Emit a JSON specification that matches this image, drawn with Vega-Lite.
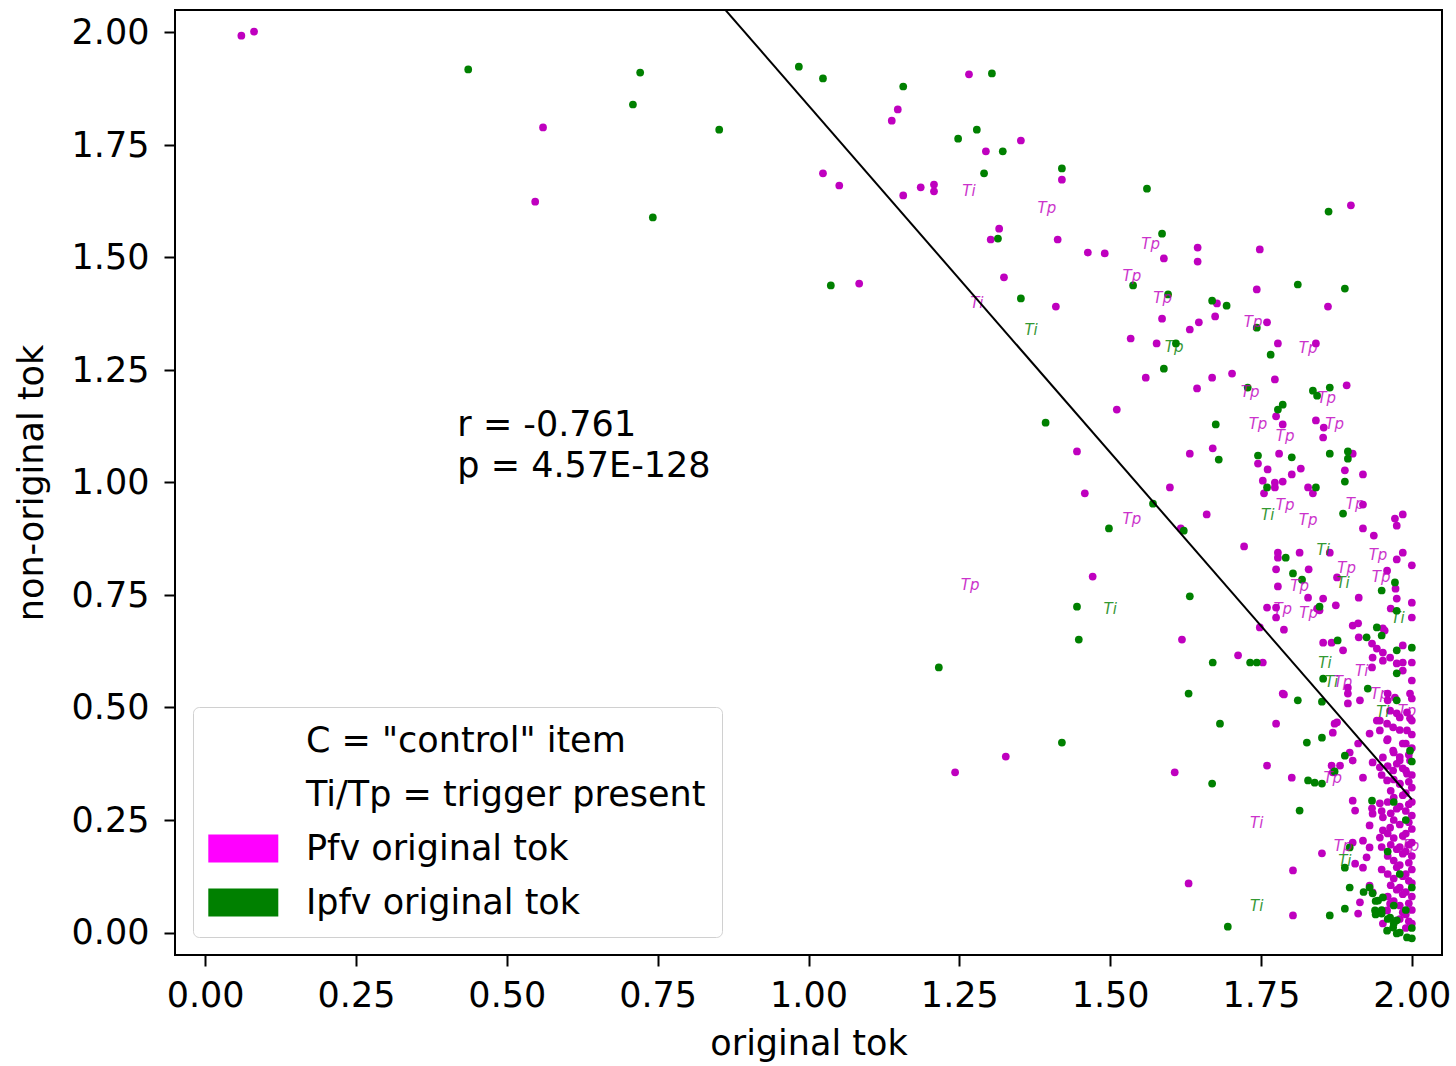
{
"$schema":"https://vega.github.io/schema/vega-lite/v6.json",
"width":1267,"height":945,
"autosize":{"type":"none"},
"padding":{"left":175,"top":10,"right":14,"bottom":111},
"background":"white",
"config":{
 "view":{"stroke":"#000","strokeWidth":2},
 "font":"DejaVu Sans",
 "axis":{"labelFont":"DejaVu Sans","titleFont":"DejaVu Sans","labelFontSize":35,"titleFontSize":35,"titleFontWeight":"normal","labelColor":"#000","titleColor":"#000","tickColor":"#000","tickWidth":2,"tickSize":11,"domain":false,"grid":false,"labelFlush":false,"labelOverlap":false}
},
"datasets":{
 "dots":[
{"x":0.060,"y":1.993,"g":"Pfv"},{"x":0.081,"y":2.002,"g":"Pfv"},{"x":0.560,"y":1.789,"g":"Pfv"},{"x":0.547,"y":1.624,"g":"Pfv"},
{"x":1.148,"y":1.829,"g":"Pfv"},{"x":1.138,"y":1.804,"g":"Pfv"},{"x":1.266,"y":1.907,"g":"Pfv"},{"x":1.294,"y":1.736,"g":"Pfv"},{"x":1.352,"y":1.760,"g":"Pfv"},{"x":1.420,"y":1.673,"g":"Pfv"},{"x":1.024,"y":1.687,"g":"Pfv"},{"x":1.051,"y":1.660,"g":"Pfv"},{"x":1.157,"y":1.638,"g":"Pfv"},{"x":1.186,"y":1.656,"g":"Pfv"},{"x":1.208,"y":1.662,"g":"Pfv"},{"x":1.208,"y":1.647,"g":"Pfv"},
{"x":1.316,"y":1.564,"g":"Pfv"},{"x":1.302,"y":1.540,"g":"Pfv"},{"x":1.413,"y":1.540,"g":"Pfv"},{"x":1.463,"y":1.511,"g":"Pfv"},{"x":1.491,"y":1.509,"g":"Pfv"},{"x":1.324,"y":1.456,"g":"Pfv"},{"x":1.084,"y":1.442,"g":"Pfv"},
{"x":1.899,"y":1.616,"g":"Pfv"},{"x":1.645,"y":1.522,"g":"Pfv"},{"x":1.645,"y":1.491,"g":"Pfv"},{"x":1.589,"y":1.498,"g":"Pfv"},{"x":1.748,"y":1.518,"g":"Pfv"},
{"x":1.410,"y":1.391,"g":"Pfv"},{"x":1.586,"y":1.364,"g":"Pfv"},{"x":1.677,"y":1.398,"g":"Pfv"},{"x":1.674,"y":1.369,"g":"Pfv"},{"x":1.743,"y":1.429,"g":"Pfv"},{"x":1.861,"y":1.391,"g":"Pfv"},{"x":1.647,"y":1.356,"g":"Pfv"},{"x":1.632,"y":1.340,"g":"Pfv"},{"x":1.760,"y":1.356,"g":"Pfv"},{"x":1.534,"y":1.320,"g":"Pfv"},{"x":1.577,"y":1.309,"g":"Pfv"},{"x":1.778,"y":1.309,"g":"Pfv"},{"x":1.841,"y":1.309,"g":"Pfv"},
{"x":1.559,"y":1.233,"g":"Pfv"},{"x":1.669,"y":1.233,"g":"Pfv"},{"x":1.702,"y":1.242,"g":"Pfv"},{"x":1.773,"y":1.229,"g":"Pfv"},{"x":1.644,"y":1.209,"g":"Pfv"},{"x":1.892,"y":1.216,"g":"Pfv"},
{"x":1.775,"y":1.147,"g":"Pfv"},{"x":1.786,"y":1.129,"g":"Pfv"},{"x":1.841,"y":1.138,"g":"Pfv"},{"x":1.854,"y":1.122,"g":"Pfv"},{"x":1.853,"y":1.100,"g":"Pfv"},
{"x":1.511,"y":1.162,"g":"Pfv"},{"x":1.445,"y":1.069,"g":"Pfv"},{"x":1.632,"y":1.064,"g":"Pfv"},{"x":1.670,"y":1.076,"g":"Pfv"},{"x":1.745,"y":1.042,"g":"Pfv"},{"x":1.780,"y":1.064,"g":"Pfv"},{"x":1.902,"y":1.064,"g":"Pfv"},
{"x":1.761,"y":1.029,"g":"Pfv"},{"x":1.816,"y":1.031,"g":"Pfv"},{"x":1.801,"y":1.018,"g":"Pfv"},{"x":1.753,"y":1.004,"g":"Pfv"},{"x":1.773,"y":1.000,"g":"Pfv"},{"x":1.773,"y":0.989,"g":"Pfv"},{"x":1.786,"y":1.002,"g":"Pfv"},{"x":1.889,"y":1.027,"g":"Pfv"},{"x":1.919,"y":1.018,"g":"Pfv"},{"x":1.599,"y":0.989,"g":"Pfv"},{"x":1.828,"y":0.989,"g":"Pfv"},{"x":1.836,"y":0.976,"g":"Pfv"},{"x":1.755,"y":0.976,"g":"Pfv"},{"x":1.458,"y":0.976,"g":"Pfv"},
{"x":1.660,"y":0.929,"g":"Pfv"},{"x":1.919,"y":0.951,"g":"Pfv"},{"x":1.972,"y":0.920,"g":"Pfv"},{"x":1.985,"y":0.929,"g":"Pfv"},{"x":1.975,"y":0.904,"g":"Pfv"},{"x":1.617,"y":0.898,"g":"Pfv"},{"x":1.919,"y":0.898,"g":"Pfv"},{"x":1.937,"y":0.882,"g":"Pfv"},{"x":1.722,"y":0.858,"g":"Pfv"},{"x":1.778,"y":0.844,"g":"Pfv"},{"x":1.778,"y":0.833,"g":"Pfv"},{"x":1.814,"y":0.844,"g":"Pfv"},{"x":1.864,"y":0.844,"g":"Pfv"},{"x":1.985,"y":0.844,"g":"Pfv"},{"x":1.975,"y":0.829,"g":"Pfv"},{"x":2.0,"y":0.816,"g":"Pfv"},{"x":1.775,"y":0.807,"g":"Pfv"},{"x":1.829,"y":0.807,"g":"Pfv"},{"x":1.876,"y":0.789,"g":"Pfv"},{"x":1.959,"y":0.804,"g":"Pfv"},{"x":1.973,"y":0.764,"g":"Pfv"},{"x":1.778,"y":0.769,"g":"Pfv"},{"x":1.471,"y":0.791,"g":"Pfv"},
{"x":1.828,"y":0.744,"g":"Pfv"},{"x":1.853,"y":0.742,"g":"Pfv"},{"x":1.912,"y":0.744,"g":"Pfv"},{"x":1.975,"y":0.742,"g":"Pfv"},{"x":2.0,"y":0.733,"g":"Pfv"},{"x":1.760,"y":0.722,"g":"Pfv"},{"x":1.775,"y":0.722,"g":"Pfv"},{"x":1.775,"y":0.700,"g":"Pfv"},{"x":1.843,"y":0.720,"g":"Pfv"},{"x":1.847,"y":0.716,"g":"Pfv"},{"x":1.874,"y":0.727,"g":"Pfv"},{"x":1.965,"y":0.720,"g":"Pfv"},{"x":2.0,"y":0.700,"g":"Pfv"},
{"x":1.748,"y":0.678,"g":"Pfv"},{"x":1.788,"y":0.673,"g":"Pfv"},{"x":1.902,"y":0.682,"g":"Pfv"},{"x":1.911,"y":0.687,"g":"Pfv"},{"x":1.952,"y":0.676,"g":"Pfv"},{"x":1.955,"y":0.671,"g":"Pfv"},{"x":1.619,"y":0.651,"g":"Pfv"},
{"x":1.853,"y":0.644,"g":"Pfv"},{"x":1.867,"y":0.644,"g":"Pfv"},{"x":1.912,"y":0.656,"g":"Pfv"},{"x":1.934,"y":0.642,"g":"Pfv"},{"x":1.886,"y":0.627,"g":"Pfv"},{"x":1.942,"y":0.631,"g":"Pfv"},{"x":1.952,"y":0.622,"g":"Pfv"},{"x":1.985,"y":0.638,"g":"Pfv"},{"x":1.712,"y":0.616,"g":"Pfv"},{"x":1.753,"y":0.600,"g":"Pfv"},{"x":1.935,"y":0.611,"g":"Pfv"},{"x":1.952,"y":0.604,"g":"Pfv"},{"x":1.964,"y":0.611,"g":"Pfv"},{"x":1.975,"y":0.598,"g":"Pfv"},{"x":1.985,"y":0.600,"g":"Pfv"},{"x":1.934,"y":0.589,"g":"Pfv"},{"x":1.985,"y":0.582,"g":"Pfv"},{"x":1.894,"y":0.544,"g":"Pfv"},{"x":1.894,"y":0.531,"g":"Pfv"},{"x":1.960,"y":0.531,"g":"Pfv"},{"x":1.972,"y":0.522,"g":"Pfv"},{"x":1.960,"y":0.516,"g":"Pfv"},{"x":1.997,"y":0.531,"g":"Pfv"},{"x":1.786,"y":0.531,"g":"Pfv"},{"x":1.894,"y":0.509,"g":"Pfv"},{"x":1.914,"y":0.516,"g":"Pfv"},{"x":1.947,"y":0.471,"g":"Pfv"},{"x":1.959,"y":0.464,"g":"Pfv"},{"x":1.975,"y":0.487,"g":"Pfv"},{"x":1.992,"y":0.489,"g":"Pfv"},{"x":1.997,"y":0.476,"g":"Pfv"},{"x":1.872,"y":0.464,"g":"Pfv"},{"x":1.775,"y":0.464,"g":"Pfv"},{"x":1.788,"y":0.529,"g":"Pfv"},
{"x":1.876,"y":0.467,"g":"Pfv"},{"x":1.869,"y":0.444,"g":"Pfv"},{"x":1.897,"y":0.400,"g":"Pfv"},{"x":1.867,"y":0.371,"g":"Pfv"},{"x":1.881,"y":0.371,"g":"Pfv"},{"x":1.869,"y":0.356,"g":"Pfv"},{"x":1.919,"y":0.344,"g":"Pfv"},{"x":1.935,"y":0.378,"g":"Pfv"},{"x":1.902,"y":0.382,"g":"Pfv"},{"x":1.911,"y":0.420,"g":"Pfv"},{"x":1.930,"y":0.442,"g":"Pfv"},{"x":1.947,"y":0.449,"g":"Pfv"},{"x":1.942,"y":0.471,"g":"Pfv"},{"x":1.964,"y":0.493,"g":"Pfv"},{"x":1.980,"y":0.478,"g":"Pfv"},{"x":1.969,"y":0.456,"g":"Pfv"},{"x":1.992,"y":0.449,"g":"Pfv"},{"x":2.0,"y":0.471,"g":"Pfv"},{"x":1.959,"y":0.427,"g":"Pfv"},{"x":1.985,"y":0.420,"g":"Pfv"},{"x":1.969,"y":0.404,"g":"Pfv"},{"x":1.952,"y":0.389,"g":"Pfv"},{"x":1.980,"y":0.382,"g":"Pfv"},{"x":1.997,"y":0.382,"g":"Pfv"},{"x":1.947,"y":0.367,"g":"Pfv"},{"x":1.969,"y":0.360,"g":"Pfv"},{"x":1.992,"y":0.353,"g":"Pfv"},{"x":1.959,"y":0.338,"g":"Pfv"},{"x":1.980,"y":0.331,"g":"Pfv"},{"x":2.0,"y":0.322,"g":"Pfv"},
{"x":1.760,"y":0.371,"g":"Pfv"},{"x":1.801,"y":0.344,"g":"Pfv"},{"x":1.327,"y":0.391,"g":"Pfv"},{"x":1.243,"y":0.356,"g":"Pfv"},{"x":1.607,"y":0.356,"g":"Pfv"},
{"x":1.902,"y":0.293,"g":"Pfv"},{"x":1.906,"y":0.271,"g":"Pfv"},{"x":1.934,"y":0.276,"g":"Pfv"},{"x":1.947,"y":0.287,"g":"Pfv"},{"x":1.935,"y":0.264,"g":"Pfv"},{"x":1.952,"y":0.256,"g":"Pfv"},{"x":1.930,"y":0.238,"g":"Pfv"},{"x":1.952,"y":0.227,"g":"Pfv"},{"x":1.947,"y":0.211,"g":"Pfv"},{"x":1.964,"y":0.233,"g":"Pfv"},
{"x":1.902,"y":0.200,"g":"Pfv"},{"x":1.919,"y":0.204,"g":"Pfv"},{"x":1.930,"y":0.189,"g":"Pfv"},{"x":1.851,"y":0.176,"g":"Pfv"},{"x":1.906,"y":0.153,"g":"Pfv"},{"x":1.919,"y":0.144,"g":"Pfv"},{"x":1.925,"y":0.167,"g":"Pfv"},{"x":1.930,"y":0.104,"g":"Pfv"},{"x":1.935,"y":0.089,"g":"Pfv"},{"x":1.914,"y":0.067,"g":"Pfv"},{"x":1.911,"y":0.042,"g":"Pfv"},{"x":1.964,"y":0.064,"g":"Pfv"},{"x":1.959,"y":0.049,"g":"Pfv"},{"x":1.952,"y":0.020,"g":"Pfv"},
{"x":1.803,"y":0.138,"g":"Pfv"},{"x":1.630,"y":0.109,"g":"Pfv"},{"x":1.803,"y":0.038,"g":"Pfv"},
{"x":2.0,"y":0.60,"g":"Pfv"},{"x":2.0,"y":0.56,"g":"Pfv"},{"x":2.0,"y":0.52,"g":"Pfv"},{"x":2.0,"y":0.44,"g":"Pfv"},{"x":2.0,"y":0.41,"g":"Pfv"},{"x":2.0,"y":0.35,"g":"Pfv"},{"x":2.0,"y":0.29,"g":"Pfv"},{"x":2.0,"y":0.26,"g":"Pfv"},{"x":2.0,"y":0.23,"g":"Pfv"},{"x":2.0,"y":0.20,"g":"Pfv"},{"x":2.0,"y":0.17,"g":"Pfv"},{"x":2.0,"y":0.14,"g":"Pfv"},{"x":2.0,"y":0.11,"g":"Pfv"},{"x":2.0,"y":0.08,"g":"Pfv"},{"x":2.0,"y":0.05,"g":"Pfv"},{"x":2.0,"y":0.02,"g":"Pfv"},
{"x":1.99,"y":0.42,"g":"Pfv"},{"x":1.99,"y":0.36,"g":"Pfv"},{"x":1.99,"y":0.31,"g":"Pfv"},{"x":1.99,"y":0.27,"g":"Pfv"},{"x":1.99,"y":0.22,"g":"Pfv"},{"x":1.99,"y":0.18,"g":"Pfv"},{"x":1.99,"y":0.13,"g":"Pfv"},{"x":1.99,"y":0.09,"g":"Pfv"},{"x":1.99,"y":0.04,"g":"Pfv"},{"x":1.99,"y":0.01,"g":"Pfv"},
{"x":1.98,"y":0.45,"g":"Pfv"},{"x":1.98,"y":0.39,"g":"Pfv"},{"x":1.98,"y":0.33,"g":"Pfv"},{"x":1.98,"y":0.28,"g":"Pfv"},{"x":1.98,"y":0.24,"g":"Pfv"},{"x":1.98,"y":0.19,"g":"Pfv"},{"x":1.98,"y":0.15,"g":"Pfv"},{"x":1.98,"y":0.10,"g":"Pfv"},{"x":1.98,"y":0.06,"g":"Pfv"},{"x":1.98,"y":0.03,"g":"Pfv"},
{"x":1.97,"y":0.40,"g":"Pfv"},{"x":1.97,"y":0.34,"g":"Pfv"},{"x":1.97,"y":0.30,"g":"Pfv"},{"x":1.97,"y":0.25,"g":"Pfv"},{"x":1.97,"y":0.21,"g":"Pfv"},{"x":1.97,"y":0.16,"g":"Pfv"},{"x":1.97,"y":0.12,"g":"Pfv"},{"x":1.97,"y":0.07,"g":"Pfv"},
{"x":1.96,"y":0.43,"g":"Pfv"},{"x":1.96,"y":0.37,"g":"Pfv"},{"x":1.96,"y":0.29,"g":"Pfv"},{"x":1.96,"y":0.22,"g":"Pfv"},{"x":1.96,"y":0.17,"g":"Pfv"},{"x":1.96,"y":0.13,"g":"Pfv"},{"x":1.96,"y":0.08,"g":"Pfv"},
{"x":1.95,"y":0.35,"g":"Pfv"},{"x":1.95,"y":0.27,"g":"Pfv"},{"x":1.95,"y":0.19,"g":"Pfv"},{"x":1.95,"y":0.14,"g":"Pfv"},
{"x":1.995,"y":0.395,"g":"Pfv"},{"x":1.995,"y":0.335,"g":"Pfv"},{"x":1.995,"y":0.285,"g":"Pfv"},{"x":1.995,"y":0.245,"g":"Pfv"},{"x":1.995,"y":0.195,"g":"Pfv"},{"x":1.995,"y":0.155,"g":"Pfv"},{"x":1.995,"y":0.115,"g":"Pfv"},{"x":1.995,"y":0.065,"g":"Pfv"},{"x":1.995,"y":0.025,"g":"Pfv"},
{"x":1.985,"y":0.365,"g":"Pfv"},{"x":1.985,"y":0.305,"g":"Pfv"},{"x":1.985,"y":0.215,"g":"Pfv"},{"x":1.985,"y":0.175,"g":"Pfv"},{"x":1.985,"y":0.125,"g":"Pfv"},{"x":1.985,"y":0.085,"g":"Pfv"},{"x":1.985,"y":0.045,"g":"Pfv"},
{"x":1.975,"y":0.375,"g":"Pfv"},{"x":1.975,"y":0.275,"g":"Pfv"},{"x":1.975,"y":0.185,"g":"Pfv"},{"x":1.975,"y":0.145,"g":"Pfv"},{"x":1.975,"y":0.095,"g":"Pfv"},
{"x":1.965,"y":0.315,"g":"Pfv"},{"x":1.965,"y":0.265,"g":"Pfv"},{"x":1.965,"y":0.195,"g":"Pfv"},{"x":1.965,"y":0.105,"g":"Pfv"},
{"x":0.436,"y":1.918,"g":"Ipfv"},{"x":0.721,"y":1.911,"g":"Ipfv"},{"x":0.709,"y":1.840,"g":"Ipfv"},{"x":0.742,"y":1.589,"g":"Ipfv"},{"x":0.852,"y":1.784,"g":"Ipfv"},{"x":0.984,"y":1.924,"g":"Ipfv"},{"x":1.024,"y":1.898,"g":"Ipfv"},{"x":1.157,"y":1.880,"g":"Ipfv"},{"x":1.304,"y":1.909,"g":"Ipfv"},{"x":1.279,"y":1.784,"g":"Ipfv"},{"x":1.248,"y":1.764,"g":"Ipfv"},{"x":1.322,"y":1.736,"g":"Ipfv"},{"x":1.420,"y":1.698,"g":"Ipfv"},{"x":1.291,"y":1.687,"g":"Ipfv"},
{"x":1.314,"y":1.542,"g":"Ipfv"},{"x":1.037,"y":1.438,"g":"Ipfv"},{"x":1.352,"y":1.409,"g":"Ipfv"},{"x":1.561,"y":1.653,"g":"Ipfv"},{"x":1.586,"y":1.553,"g":"Ipfv"},{"x":1.862,"y":1.602,"g":"Ipfv"},
{"x":1.538,"y":1.438,"g":"Ipfv"},{"x":1.596,"y":1.418,"g":"Ipfv"},{"x":1.669,"y":1.404,"g":"Ipfv"},{"x":1.693,"y":1.393,"g":"Ipfv"},{"x":1.811,"y":1.440,"g":"Ipfv"},{"x":1.889,"y":1.431,"g":"Ipfv"},{"x":1.743,"y":1.344,"g":"Ipfv"},{"x":1.609,"y":1.309,"g":"Ipfv"},{"x":1.766,"y":1.284,"g":"Ipfv"},{"x":1.589,"y":1.253,"g":"Ipfv"},{"x":1.728,"y":1.211,"g":"Ipfv"},{"x":1.836,"y":1.204,"g":"Ipfv"},{"x":1.843,"y":1.193,"g":"Ipfv"},{"x":1.864,"y":1.211,"g":"Ipfv"},
{"x":1.786,"y":1.173,"g":"Ipfv"},{"x":1.778,"y":1.162,"g":"Ipfv"},{"x":1.675,"y":1.129,"g":"Ipfv"},{"x":1.393,"y":1.133,"g":"Ipfv"},{"x":1.680,"y":1.051,"g":"Ipfv"},{"x":1.745,"y":1.060,"g":"Ipfv"},{"x":1.801,"y":1.056,"g":"Ipfv"},{"x":1.864,"y":1.064,"g":"Ipfv"},{"x":1.894,"y":1.069,"g":"Ipfv"},{"x":1.894,"y":1.053,"g":"Ipfv"},{"x":1.760,"y":0.989,"g":"Ipfv"},{"x":1.889,"y":1.002,"g":"Ipfv"},{"x":1.841,"y":0.989,"g":"Ipfv"},
{"x":1.571,"y":0.953,"g":"Ipfv"},{"x":1.886,"y":0.931,"g":"Ipfv"},{"x":1.622,"y":0.893,"g":"Ipfv"},{"x":1.498,"y":0.898,"g":"Ipfv"},{"x":1.791,"y":0.833,"g":"Ipfv"},{"x":1.803,"y":0.798,"g":"Ipfv"},{"x":1.818,"y":0.784,"g":"Ipfv"},{"x":1.972,"y":0.778,"g":"Ipfv"},{"x":1.950,"y":0.760,"g":"Ipfv"},{"x":1.632,"y":0.747,"g":"Ipfv"},{"x":1.847,"y":0.724,"g":"Ipfv"},{"x":1.975,"y":0.715,"g":"Ipfv"},
{"x":1.445,"y":0.724,"g":"Ipfv"},{"x":1.448,"y":0.651,"g":"Ipfv"},{"x":1.216,"y":0.589,"g":"Ipfv"},{"x":1.942,"y":0.678,"g":"Ipfv"},{"x":1.877,"y":0.649,"g":"Ipfv"},{"x":1.925,"y":0.656,"g":"Ipfv"},{"x":1.950,"y":0.660,"g":"Ipfv"},{"x":1.975,"y":0.627,"g":"Ipfv"},{"x":2.0,"y":0.633,"g":"Ipfv"},{"x":1.732,"y":0.600,"g":"Ipfv"},{"x":1.743,"y":0.600,"g":"Ipfv"},{"x":1.670,"y":0.600,"g":"Ipfv"},{"x":1.975,"y":0.576,"g":"Ipfv"},{"x":1.853,"y":0.564,"g":"Ipfv"},{"x":1.927,"y":0.542,"g":"Ipfv"},{"x":1.975,"y":0.516,"g":"Ipfv"},{"x":1.630,"y":0.531,"g":"Ipfv"},{"x":1.811,"y":0.516,"g":"Ipfv"},{"x":1.682,"y":0.464,"g":"Ipfv"},{"x":1.851,"y":0.513,"g":"Ipfv"},
{"x":1.420,"y":0.422,"g":"Ipfv"},{"x":1.669,"y":0.331,"g":"Ipfv"},{"x":1.826,"y":0.422,"g":"Ipfv"},{"x":1.851,"y":0.433,"g":"Ipfv"},{"x":1.889,"y":0.393,"g":"Ipfv"},{"x":1.872,"y":0.358,"g":"Ipfv"},{"x":1.828,"y":0.338,"g":"Ipfv"},{"x":1.839,"y":0.333,"g":"Ipfv"},{"x":1.851,"y":0.331,"g":"Ipfv"},{"x":1.814,"y":0.271,"g":"Ipfv"},{"x":1.934,"y":0.293,"g":"Ipfv"},{"x":1.997,"y":0.404,"g":"Ipfv"},
{"x":1.897,"y":0.189,"g":"Ipfv"},{"x":1.889,"y":0.144,"g":"Ipfv"},{"x":1.897,"y":0.100,"g":"Ipfv"},{"x":1.889,"y":0.053,"g":"Ipfv"},{"x":1.864,"y":0.038,"g":"Ipfv"},{"x":1.935,"y":0.087,"g":"Ipfv"},{"x":1.944,"y":0.071,"g":"Ipfv"},{"x":1.952,"y":0.078,"g":"Ipfv"},{"x":1.939,"y":0.049,"g":"Ipfv"},{"x":1.950,"y":0.042,"g":"Ipfv"},{"x":1.964,"y":0.033,"g":"Ipfv"},{"x":1.975,"y":0.027,"g":"Ipfv"},{"x":1.959,"y":0.004,"g":"Ipfv"},{"x":1.975,"y":-0.002,"g":"Ipfv"},{"x":1.992,"y":-0.011,"g":"Ipfv"},{"x":2.0,"y":-0.013,"g":"Ipfv"},{"x":1.969,"y":0.011,"g":"Ipfv"},{"x":1.695,"y":0.013,"g":"Ipfv"},
{"x":1.94,"y":0.07,"g":"Ipfv"},{"x":1.93,"y":0.10,"g":"Ipfv"},{"x":1.92,"y":0.09,"g":"Ipfv"},{"x":1.96,"y":0.03,"g":"Ipfv"},{"x":1.95,"y":0.05,"g":"Ipfv"},{"x":1.97,"y":0.06,"g":"Ipfv"},{"x":1.99,"y":0.05,"g":"Ipfv"},{"x":2.0,"y":0.10,"g":"Ipfv"},{"x":1.98,"y":0.13,"g":"Ipfv"},{"x":1.96,"y":0.18,"g":"Ipfv"},{"x":1.99,"y":0.25,"g":"Ipfv"},{"x":2.0,"y":0.38,"g":"Ipfv"},{"x":1.97,"y":0.29,"g":"Ipfv"},{"x":1.94,"y":0.04,"g":"Ipfv"},{"x":1.98,"y":0.0,"g":"Ipfv"},{"x":1.97,"y":0.02,"g":"Ipfv"},{"x":2.0,"y":0.01,"g":"Ipfv"}
 ],
 "tags":[
{"x":1.266,"y":1.647,"t":"Ti","g":"Pfv"},{"x":1.395,"y":1.609,"t":"Tp","g":"Pfv"},{"x":1.279,"y":1.398,"t":"Ti","g":"Pfv"},{"x":1.369,"y":1.340,"t":"Ti","g":"Ipfv"},{"x":1.567,"y":1.531,"t":"Tp","g":"Pfv"},{"x":1.536,"y":1.458,"t":"Tp","g":"Pfv"},{"x":1.587,"y":1.411,"t":"Tp","g":"Pfv"},{"x":1.606,"y":1.302,"t":"Tp","g":"Ipfv"},{"x":1.737,"y":1.356,"t":"Tp","g":"Pfv"},{"x":1.828,"y":1.298,"t":"Tp","g":"Pfv"},{"x":1.732,"y":1.202,"t":"Tp","g":"Pfv"},{"x":1.859,"y":1.187,"t":"Tp","g":"Pfv"},{"x":1.745,"y":1.131,"t":"Tp","g":"Pfv"},{"x":1.790,"y":1.104,"t":"Tp","g":"Pfv"},{"x":1.872,"y":1.131,"t":"Tp","g":"Pfv"},{"x":1.790,"y":0.949,"t":"Tp","g":"Pfv"},{"x":1.761,"y":0.927,"t":"Ti","g":"Ipfv"},{"x":1.828,"y":0.916,"t":"Tp","g":"Pfv"},{"x":1.906,"y":0.953,"t":"Tp","g":"Pfv"},{"x":1.536,"y":0.920,"t":"Tp","g":"Pfv"},{"x":1.853,"y":0.849,"t":"Ti","g":"Ipfv"},{"x":1.944,"y":0.838,"t":"Tp","g":"Pfv"},{"x":1.892,"y":0.809,"t":"Tp","g":"Pfv"},{"x":1.949,"y":0.791,"t":"Tp","g":"Pfv"},{"x":1.886,"y":0.776,"t":"Ti","g":"Ipfv"},{"x":1.814,"y":0.769,"t":"Tp","g":"Pfv"},{"x":1.786,"y":0.720,"t":"Tp","g":"Pfv"},{"x":1.829,"y":0.709,"t":"Tp","g":"Pfv"},{"x":1.977,"y":0.700,"t":"Ti","g":"Ipfv"},{"x":1.268,"y":0.773,"t":"Tp","g":"Pfv"},{"x":1.500,"y":0.720,"t":"Ti","g":"Ipfv"},{"x":1.856,"y":0.600,"t":"Ti","g":"Ipfv"},{"x":1.917,"y":0.582,"t":"Ti","g":"Pfv"},{"x":1.867,"y":0.556,"t":"Ti","g":"Ipfv"},{"x":1.886,"y":0.556,"t":"Tp","g":"Pfv"},{"x":1.947,"y":0.531,"t":"Tp","g":"Pfv"},{"x":1.952,"y":0.489,"t":"Ti","g":"Ipfv"},{"x":1.992,"y":0.493,"t":"Tp","g":"Pfv"},{"x":1.869,"y":0.344,"t":"Tp","g":"Pfv"},{"x":1.743,"y":0.244,"t":"Ti","g":"Pfv"},{"x":1.886,"y":0.193,"t":"Tp","g":"Pfv"},{"x":1.889,"y":0.160,"t":"Ti","g":"Ipfv"},{"x":1.743,"y":0.060,"t":"Ti","g":"Ipfv"},{"x":1.997,"y":0.193,"t":"Tp","g":"Pfv"}
 ],
 "fit":[{"x":0.06,"y":3.287},{"x":2.0,"y":0.296}],
 "ann":[{"x":0.418,"y":1.104,"t":"r = -0.761"},{"x":0.418,"y":1.012,"t":"p = 4.57E-128"}],
 "leg":[{"lbl":"C = \"control\" item"},{"lbl":"Ti/Tp = trigger present"},{"lbl":"Pfv original tok"},{"lbl":"Ipfv original tok"}]
},
"encoding":{
 "x":{"field":"x","type":"quantitative","scale":{"domain":[-0.05,2.05],"nice":false,"zero":false},"axis":{"title":"original tok","values":[0,0.25,0.5,0.75,1,1.25,1.5,1.75,2],"format":".2f","labelPadding":12,"titlePadding":13}},
 "y":{"field":"y","type":"quantitative","scale":{"domain":[-0.05,2.05],"nice":false,"zero":false},"axis":{"title":"non-original tok","values":[0,0.25,0.5,0.75,1,1.25,1.5,1.75,2],"format":".2f","labelPadding":15,"titlePadding":22}}
},
"layer":[
 {"data":{"name":"dots"},"mark":{"type":"circle","size":60,"opacity":1},
  "encoding":{"color":{"field":"g","type":"nominal","scale":{"domain":["Pfv","Ipfv"],"range":["#bf00bf","#008000"]},"legend":null}}},
 {"data":{"name":"tags"},"mark":{"type":"text","fontStyle":"italic","fontSize":15,"opacity":0.8,"align":"center","baseline":"middle","font":"DejaVu Sans"},
  "encoding":{"text":{"field":"t"},"color":{"field":"g","type":"nominal","scale":{"domain":["Pfv","Ipfv"],"range":["#bf00bf","#008000"]},"legend":null}}},
 {"data":{"name":"fit"},"mark":{"type":"line","color":"#000","strokeWidth":2,"clip":true}},
 {"data":{"name":"ann"},"mark":{"type":"text","align":"left","baseline":"alphabetic","fontSize":35,"color":"#000","font":"DejaVu Sans"},
  "encoding":{"text":{"field":"t"}}},
 {"data":{"name":"leg"},"mark":{"type":"point","filled":true,"opacity":0},
  "encoding":{"fill":{"field":"lbl","type":"nominal","scale":{"domain":["C = \"control\" item","Ti/Tp = trigger present","Pfv original tok","Ipfv original tok"],"range":["rgba(255,255,255,0)","rgba(255,255,255,0)","#ff00ff","#008000"]},
   "legend":{"title":null,"orient":"bottom-left","offset":18,"symbolType":"M-1.3,-1H3.7V1H-1.3Z","symbolSize":784,"symbolStrokeWidth":0,"symbolOpacity":1,"labelFontSize":35,"labelFont":"DejaVu Sans","labelColor":"#000","labelOffset":62,"rowPadding":18,"padding":16,"fillColor":"white","strokeColor":"#d0d0d0","cornerRadius":6,"labelLimit":0}}}}
]
}
